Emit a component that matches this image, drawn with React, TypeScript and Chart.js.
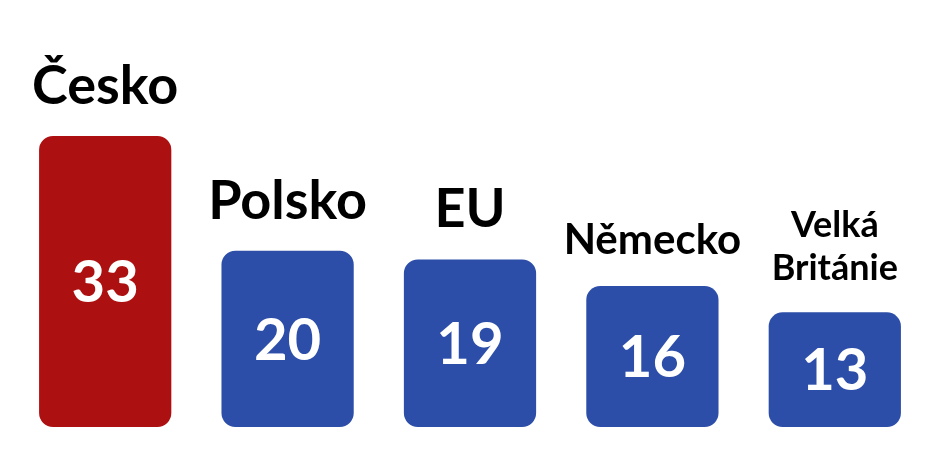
import { useEffect, useRef } from "react"
import { Chart, registerables } from "chart.js"

Chart.register(...registerables)

const countries: (string | string[])[] = ["Česko", "Polsko", "EU", "Německo", ["Velká", "Británie"]]
const shares = [33, 20, 19, 16, 13]
const barColors = ["#ad1010", "#2c4ea8", "#2c4ea8", "#2c4ea8", "#2c4ea8"]

const FONT = "Lato, 'Noto Sans', sans-serif"

// draws the country names above the bars and the values inside them
const barLabels = {
  id: "barLabels",
  afterDatasetsDraw(chart: Chart) {
    const ctx = chart.ctx
    const meta = chart.getDatasetMeta(0)
    ctx.save()
    ctx.textAlign = "center"
    meta.data.forEach((bar: any, i: number) => {
      const { x, y, base } = bar.getProps(["x", "y", "base"], true)

      ctx.fillStyle = "#ffffff"
      ctx.font = `bold 58px ${FONT}`
      ctx.textBaseline = "middle"
      ctx.fillText(String(shares[i]), x, (y + base) / 2 + 2)

      const label = countries[i]
      const lines = Array.isArray(label) ? label : [label]
      let size = lines.length > 1 ? 36 : 54
      ctx.font = `bold ${size}px ${FONT}`
      const widest = Math.max(...lines.map((l) => ctx.measureText(l).width))
      if (widest > 180) {
        size = Math.floor((size * 180) / widest)
        ctx.font = `bold ${size}px ${FONT}`
      }
      ctx.fillStyle = "#000000"
      ctx.textBaseline = "alphabetic"
      const lineHeight = size * 1.2
      lines.forEach((line, k) => {
        const offset = (lines.length - 1 - k) * lineHeight
        ctx.fillText(line, x, y - 32 - offset)
      })
    })
    ctx.restore()
  },
}

export default function App() {
  const canvasRef = useRef<HTMLCanvasElement>(null)
  const chartRef = useRef<Chart | null>(null)

  useEffect(() => {
    if (!canvasRef.current) return
    if (chartRef.current) chartRef.current.destroy()

    chartRef.current = new Chart(canvasRef.current, {
      type: "bar",
      data: {
        labels: countries.map((c) => (Array.isArray(c) ? c.join(" ") : c)),
        datasets: [
          {
            data: shares,
            backgroundColor: barColors,
            borderRadius: 14,
            borderSkipped: false,
            barPercentage: 0.725,
            categoryPercentage: 1,
          },
        ],
      },
      options: {
        responsive: true,
        maintainAspectRatio: false,
        animation: false,
        layout: { padding: { left: 6, right: 9, top: 31, bottom: 34 } },
        scales: {
          x: { display: false },
          y: { display: false, min: 0, max: 44 },
        },
        plugins: {
          legend: { display: false },
          tooltip: { enabled: false },
        },
      },
      plugins: [barLabels],
    })

    return () => {
      if (chartRef.current) {
        chartRef.current.destroy()
        chartRef.current = null
      }
    }
  }, [])

  return (
    <div style={{ position: "relative", width: "100%", height: 453 }}>
      <canvas ref={canvasRef} />
    </div>
  )
}
